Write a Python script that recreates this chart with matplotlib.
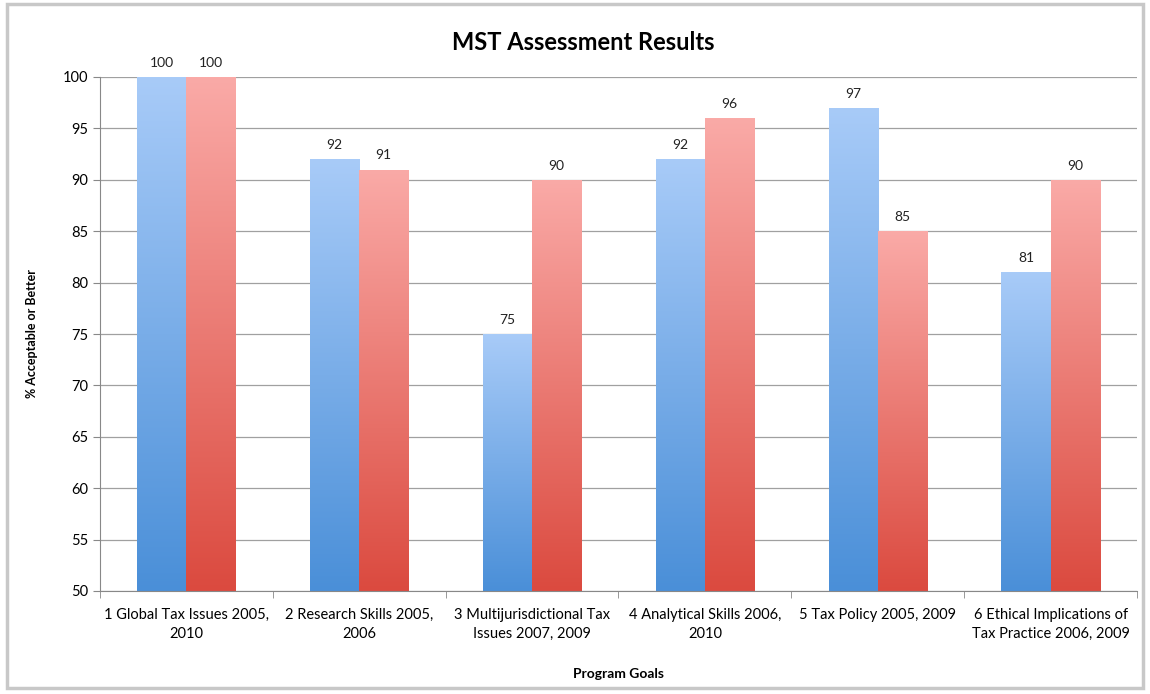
import numpy as np
import matplotlib
matplotlib.use("Agg")
import matplotlib.pyplot as plt
from matplotlib.colors import LinearSegmentedColormap
from matplotlib.patches import Rectangle

plt.rcParams.update({
    "font.family": ["Lato", "DejaVu Sans"],
    "font.size": 10,
})

CATEGORIES = ["1 Global Tax Issues 2005,\n2010",
              "2 Research Skills 2005,\n2006",
              "3 Multijurisdictional Tax\nIssues 2007, 2009",
              "4 Analytical Skills 2006,\n2010",
              "5 Tax Policy 2005, 2009",
              "6 Ethical Implications of\nTax Practice 2006, 2009"]
FIRST = [100, 92, 75, 92, 97, 81]
SECOND = [100, 91, 90, 96, 85, 90]

BLUE = LinearSegmentedColormap.from_list("b", ["#4a8fd8", "#a8cbf8"])
RED = LinearSegmentedColormap.from_list("r", ["#db4a3f", "#faaaa7"])

fig = plt.figure(figsize=(11.5, 6.94), dpi=100)
ax = fig.add_axes([100 / 1150, 1 - 591 / 694, 1037 / 1150, 514 / 694])

x = np.arange(len(CATEGORIES))
w = 0.284
ymin = 50
grad = np.linspace(0, 1, 256).reshape(-1, 1)

for vals, off, cmap in ((FIRST, -w / 2, BLUE), (SECOND, w / 2, RED)):
    bars = ax.bar(x + off, np.array(vals) - ymin, w, bottom=ymin,
                  color="none", edgecolor="none", zorder=2)
    for b, v in zip(bars, vals):
        x0, y0 = b.get_x(), b.get_y()
        x1, y1 = x0 + b.get_width(), y0 + b.get_height()
        im = ax.imshow(grad, cmap=cmap, origin="lower", aspect="auto",
                       extent=(x0, x1, y0, y1), zorder=2)
        im.set_clip_path(b)
        ax.text((x0 + x1) / 2, y1 + 0.8, f"{v}", ha="center", va="bottom",
                fontsize=10, color="#222222")

ax.set_xlim(-0.5, len(CATEGORIES) - 0.5)
ax.set_ylim(50, 100)
ax.set_yticks(range(50, 101, 5))
ax.set_xticks(x)
ax.set_xticklabels(CATEGORIES, fontsize=10.5, linespacing=1.45)
ax.set_xticks(np.arange(-0.5, len(CATEGORIES)), minor=True)
ax.tick_params(axis="x", which="major", length=0, pad=12)
ax.tick_params(axis="x", which="minor", length=5, color="#888888")
ax.tick_params(axis="y", length=5, color="#888888", labelsize=10.5)
ax.grid(axis="y", color="#a0a0a0", linewidth=0.9, zorder=0)
ax.set_axisbelow(True)
for s in ("top", "right"):
    ax.spines[s].set_visible(False)
for s in ("left", "bottom"):
    ax.spines[s].set_color("#888888")

ax.set_ylabel("% Acceptable or Better", fontsize=9, fontweight="bold", labelpad=18)
ax.set_xlabel("Program Goals", fontsize=10, fontweight="bold", labelpad=20)
fig.text(583 / 1150, 1 - 42 / 694, "MST Assessment Results", ha="center",
         va="center", fontsize=17, fontweight="bold")

fig.patches.append(Rectangle((0.006, 0.008), 0.988, 0.986, transform=fig.transFigure,
                             fill=False, edgecolor="#c8c8c8", linewidth=2.5))

fig.savefig("out.png", dpi=100)
